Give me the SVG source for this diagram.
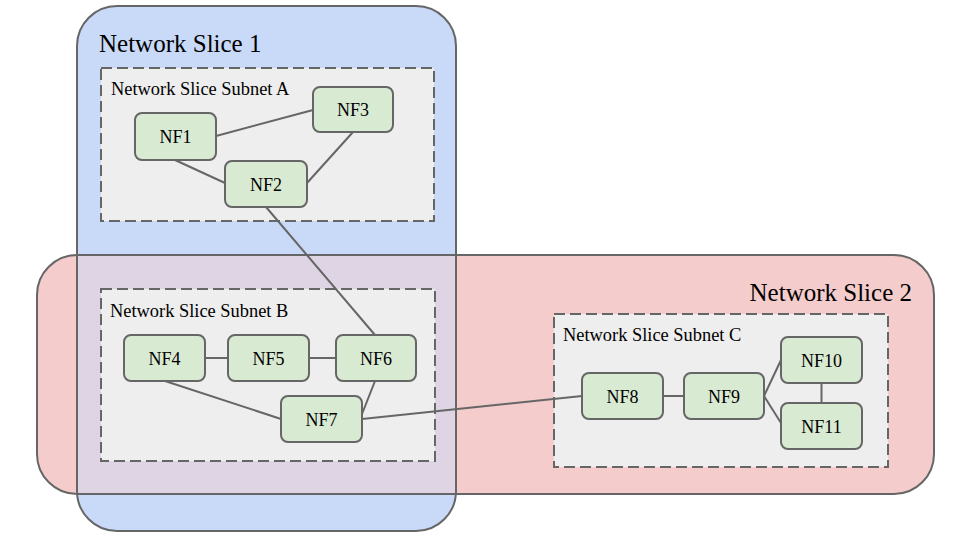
<svg xmlns="http://www.w3.org/2000/svg" width="960" height="540" viewBox="0 0 960 540">
<style>
.slice{stroke:#666;stroke-width:2;fill:none}
.subnet{fill:#eeeeee;stroke:#666;stroke-width:2;stroke-dasharray:11,5}
.nf rect{fill:#d9ead3;stroke:#666;stroke-width:2}
.nf text{font-family:"Liberation Serif","Times New Roman",serif;font-size:18px;fill:#000;text-anchor:middle}
.lbl{font-family:"Liberation Serif","Times New Roman",serif;fill:#000}
.conn line{stroke:#666;stroke-width:2}
</style>
<rect width="960" height="540" fill="#fff"/>
<g id="slice1-bg"><rect x="77" y="6" width="379" height="525" rx="40" fill="#c9daf8"/></g>
<g id="slice2-bg"><rect x="37" y="255" width="897" height="239" rx="40" fill="#f4cccc"/></g>
<rect x="77" y="255" width="379" height="239" fill="#dfd4e4"/>
<g id="slice1"><rect class="slice" x="77" y="6" width="379" height="525" rx="40"/>
<text class="lbl" x="99" y="52" font-size="25">Network Slice 1</text></g>
<g id="slice2"><rect class="slice" x="37" y="255" width="897" height="239" rx="40"/>
<text class="lbl" x="912" y="301" font-size="25" text-anchor="end">Network Slice 2</text></g>
<g id="subnetA"><rect class="subnet" x="101" y="68" width="333" height="153"/>
<text class="lbl" x="111" y="95" font-size="18.4">Network Slice Subnet A</text></g>
<g id="subnetB"><rect class="subnet" x="101" y="289" width="334" height="172"/>
<text class="lbl" x="110" y="317" font-size="18.4">Network Slice Subnet B</text></g>
<g id="subnetC"><rect class="subnet" x="554" y="314" width="334" height="153"/>
<text class="lbl" x="563" y="341" font-size="18.4">Network Slice Subnet C</text></g>
<g id="connectors" class="conn">
<line x1="216" y1="136" x2="313" y2="110"/>
<line x1="175" y1="160" x2="225" y2="183"/>
<line x1="353" y1="132" x2="307" y2="183"/>
<line x1="266" y1="207" x2="375" y2="335"/>
<line x1="205" y1="358" x2="228" y2="358"/>
<line x1="309" y1="358" x2="336" y2="358"/>
<line x1="165" y1="381" x2="281" y2="419"/>
<line x1="375" y1="381" x2="362" y2="414"/>
<line x1="362" y1="419" x2="582" y2="396"/>
<line x1="663" y1="396" x2="684" y2="396"/>
<line x1="764" y1="396" x2="781" y2="360"/>
<line x1="764" y1="396" x2="781" y2="423"/>
<line x1="821.5" y1="383" x2="821.5" y2="403"/>
</g>
<g id="NF1" class="nf"><rect x="135" y="113" width="81" height="47" rx="7"/><text x="175.5" y="143">NF1</text></g>
<g id="NF2" class="nf"><rect x="225" y="161" width="82" height="46" rx="7"/><text x="266" y="191">NF2</text></g>
<g id="NF3" class="nf"><rect x="313" y="87" width="80" height="45" rx="7"/><text x="353" y="116">NF3</text></g>
<g id="NF4" class="nf"><rect x="124" y="335" width="81" height="46" rx="7"/><text x="164.5" y="365">NF4</text></g>
<g id="NF5" class="nf"><rect x="228" y="335" width="81" height="46" rx="7"/><text x="268.5" y="365">NF5</text></g>
<g id="NF6" class="nf"><rect x="336" y="335" width="80" height="46" rx="7"/><text x="376" y="365">NF6</text></g>
<g id="NF7" class="nf"><rect x="281" y="396" width="81" height="46" rx="7"/><text x="321.5" y="426">NF7</text></g>
<g id="NF8" class="nf"><rect x="582" y="373" width="81" height="46" rx="7"/><text x="622.5" y="403">NF8</text></g>
<g id="NF9" class="nf"><rect x="684" y="373" width="80" height="46" rx="7"/><text x="724" y="403">NF9</text></g>
<g id="NF10" class="nf"><rect x="781" y="337" width="81" height="46" rx="7"/><text x="821.5" y="367">NF10</text></g>
<g id="NF11" class="nf"><rect x="781" y="403" width="81" height="46" rx="7"/><text x="821.5" y="433">NF11</text></g>
</svg>
